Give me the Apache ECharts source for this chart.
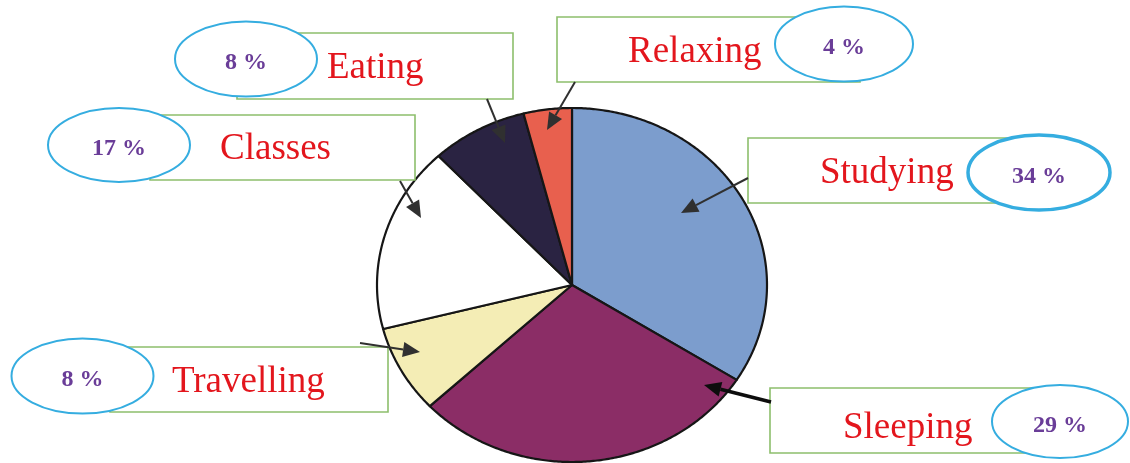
<!DOCTYPE html>
<html>
<head>
<meta charset="utf-8">
<title>How a student spends the day</title>
<script src="https://cdn.jsdelivr.net/npm/echarts@6/dist/echarts.min.js"></script>
<style>
  html, body { margin: 0; padding: 0; background: #ffffff; }
  #chart { width: 1130px; height: 463px; }
</style>
</head>
<body>
<div id="chart"></div>
<script>
// Activities, clockwise from twelve o'clock, and their share of the day (%)
const categories = ['Studying', 'Sleeping', 'Travelling', 'Classes', 'Eating', 'Relaxing'];
const shares = [34, 29, 8, 17, 8, 4];

// Slice fills, same order as categories
const sliceColors = ['#7c9dcd', '#8b2d66', '#f4edb5', '#ffffff', '#2a2342', '#e8604e'];

// Pie placement (pixels) – drawn slightly flattened
const pie = { cx: 572, cy: 285, rx: 195, ry: 177 };

// Callout layout for each activity: box, percentage oval, text and arrow
const callouts = {
  Studying:   { box: [748, 138, 1040, 203], oval: [1039, 172.5, 71, 37.5], oW: 3.5, textX: 820, textY: 173, arrow: [748, 178, 681, 213], aW: 2 },
  Sleeping:   { box: [770, 388, 1060, 453], oval: [1060, 421.5, 68, 36.5], oW: 2, textX: 843, textY: 428, arrow: [771, 402, 704, 385], aW: 3.5 },
  Travelling: { box: [110, 347, 388, 412], oval: [82.5, 376, 71, 37.5], oW: 2, textX: 172, textY: 382, arrow: [360, 343, 420, 352], aW: 2 },
  Classes:    { box: [150, 115, 415, 180], oval: [119, 145, 71, 37], oW: 2, textX: 220, textY: 149, arrow: [400, 181, 421, 218], aW: 2 },
  Eating:     { box: [237, 33, 513, 99], oval: [246, 59, 71, 37.5], oW: 2, textX: 327, textY: 68, arrow: [487, 99, 505, 143], aW: 2 },
  Relaxing:   { box: [557, 17, 860, 82], oval: [844, 44, 69, 37.5], oW: 2, textX: 628, textY: 52, arrow: [575, 82, 547, 130], aW: 2 }
};

// Cumulative start/end (in %) for each slice
let acc = 0;
const sliceData = shares.map(function (v, i) {
  const item = { name: categories[i], value: [acc, acc + v, v], itemStyle: { color: sliceColors[i] } };
  acc += v;
  return item;
});
const total = acc;

function renderSlice(params, api) {
  const a0 = api.value(0) / total * Math.PI * 2;
  const a1 = api.value(1) / total * Math.PI * 2;
  const pts = [api.coord([pie.cx, pie.cy])];
  const steps = Math.max(4, Math.ceil((a1 - a0) / 0.01));
  for (let k = 0; k <= steps; k++) {
    const t = a0 + (a1 - a0) * k / steps;
    pts.push(api.coord([pie.cx + pie.rx * Math.sin(t), pie.cy - pie.ry * Math.cos(t)]));
  }
  return {
    type: 'polygon',
    shape: { points: pts },
    style: { fill: api.visual('color'), stroke: '#161616', lineWidth: 2.2, lineJoin: 'round' }
  };
}

function arrowGraphic(seg, width, color) {
  const [x1, y1, x2, y2] = seg;
  const ang = Math.atan2(y2 - y1, x2 - x1);
  const len = 17, half = 7.5;
  const bx = x2 - len * Math.cos(ang), by = y2 - len * Math.sin(ang);
  const nx = -Math.sin(ang), ny = Math.cos(ang);
  return [
    { type: 'line', z: 110, shape: { x1: x1, y1: y1, x2: bx, y2: by }, style: { stroke: color, lineWidth: width } },
    { type: 'polygon', z: 111, shape: { points: [[x2, y2], [bx + nx * half, by + ny * half], [bx - nx * half, by - ny * half]] }, style: { fill: color } }
  ];
}

const graphics = [];
categories.forEach(function (name, i) {
  const c = callouts[name];
  const [l, t, r, b] = c.box;
  graphics.push({ type: 'rect', z: 100, shape: { x: l, y: t, width: r - l, height: b - t }, style: { fill: '#ffffff', stroke: '#8dbf6c', lineWidth: 1.6 } });
  graphics.push({ type: 'ellipse', z: 102, shape: { cx: c.oval[0], cy: c.oval[1], rx: c.oval[2], ry: c.oval[3] }, style: { fill: '#ffffff', stroke: '#35ade0', lineWidth: c.oW } });
  graphics.push({ type: 'text', z: 103, x: c.textX, y: c.textY, style: { text: name, fill: '#e3161d', font: '37px "Liberation Serif", "Times New Roman", serif', verticalAlign: 'middle', align: 'left' } });
  graphics.push({ type: 'text', z: 103, x: c.oval[0], y: c.oval[1] + 4, style: { text: shares[i] + ' %', fill: '#6a3d98', font: 'bold 24px "Liberation Serif", "Times New Roman", serif', verticalAlign: 'middle', align: 'center' } });
  arrowGraphic(c.arrow, c.aW, c.aW > 3 ? '#0d0d0d' : '#303030').forEach(function (g) { graphics.push(g); });
});

const chart = echarts.init(document.getElementById('chart'), null, { renderer: 'canvas' });
chart.setOption({
  animation: false,
  backgroundColor: '#ffffff',
  grid: { left: 0, right: 0, top: 0, bottom: 0 },
  xAxis: { type: 'value', min: 0, max: 1130, show: false },
  yAxis: { type: 'value', min: 0, max: 463, inverse: true, show: false },
  series: [{
    type: 'custom',
    name: 'Share of day',
    coordinateSystem: 'cartesian2d',
    renderItem: renderSlice,
    encode: { x: 0, y: 1 },
    data: sliceData,
    clip: false
  }],
  graphic: graphics
});
</script>
</body>
</html>
